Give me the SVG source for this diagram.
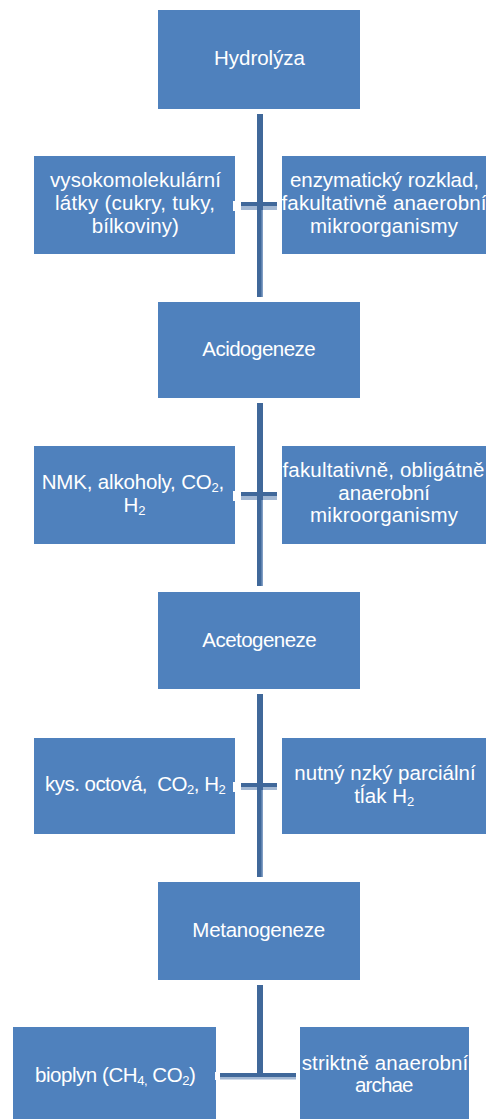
<svg xmlns="http://www.w3.org/2000/svg" width="489" height="1119" viewBox="0 0 489 1119">
<style>
.box{fill:#4f81bd}
.t{font-family:"Liberation Sans",Arial,sans-serif;font-size:20.5px;fill:#ffffff;text-anchor:middle}
.dark{fill:#40689a}
.light{fill:#a3b8d3}
.wh{fill:#ffffff}
.edge{fill:#7f9dc4}
</style>
<rect width="489" height="1119" fill="#ffffff"/>
<g id="hydrolyza"><rect class="box" x="158" y="10" width="202" height="99"/><text class="t" x="259.5" y="65" textLength="91" lengthAdjust="spacing">Hydrolýza</text></g>
<g id="vysokomolekularni"><rect class="box" x="34" y="156" width="201" height="98"/>
<text class="t" x="135.5" y="187" textLength="171" lengthAdjust="spacing">vysokomolekulární</text>
<text class="t" x="135" y="210" textLength="160" lengthAdjust="spacing">látky (cukry, tuky,</text>
<text class="t" x="135.3" y="232.5" textLength="87" lengthAdjust="spacing">bílkoviny)</text></g>
<g id="enzymaticky"><rect class="box" x="282" y="156" width="204" height="98"/>
<text class="t" x="384.5" y="187" textLength="189" lengthAdjust="spacing">enzymatický rozklad,</text>
<text class="t" x="384" y="210" textLength="205" lengthAdjust="spacing">fakultativně anaerobní</text>
<text class="t" x="384" y="232.5" textLength="148" lengthAdjust="spacing">mikroorganismy</text></g>

<g id="acidogeneze"><rect class="box" x="158" y="302" width="202" height="96"/><text class="t" x="259" y="356" textLength="113.5" lengthAdjust="spacing">Acidogeneze</text></g>
<g id="nmk"><rect class="box" x="34" y="446" width="201" height="98"/>
<text class="t" x="133" y="489" textLength="182.6" lengthAdjust="spacing">NMK, alkoholy, CO<tspan font-size="13" dy="3">2</tspan><tspan dy="-3">,</tspan></text>
<text class="t" x="134.5" y="511.5">H<tspan font-size="13" dy="3">2</tspan></text></g>
<g id="fakultativne"><rect class="box" x="282" y="446" width="204" height="98"/>
<text class="t" x="383.5" y="477" textLength="202" lengthAdjust="spacing">fakultativně, obligátně</text>
<text class="t" x="384.2" y="500" textLength="91.7" lengthAdjust="spacing">anaerobní</text>
<text class="t" x="384" y="521.5" textLength="148" lengthAdjust="spacing">mikroorganismy</text></g>

<g id="acetogeneze"><rect class="box" x="158" y="592" width="202" height="97"/><text class="t" x="259.5" y="646.7" textLength="114.4" lengthAdjust="spacing">Acetogeneze</text></g>
<g id="kys"><rect class="box" x="34" y="738" width="201" height="96"/>
<text class="t" x="135.3" y="791" textLength="180.7" lengthAdjust="spacing">kys. octová, &#160;CO<tspan font-size="13" dy="3">2</tspan><tspan dy="-3">, H</tspan><tspan font-size="13" dy="3">2</tspan></text></g>
<g id="nutny"><rect class="box" x="282" y="738" width="204" height="96"/>
<text class="t" x="385" y="780" textLength="181.4" lengthAdjust="spacing">nutný nzký parciální</text>
<text class="t" x="384.3" y="803.3" textLength="60" lengthAdjust="spacing">tĺak H<tspan font-size="13" dy="3">2</tspan></text></g>

<g id="metanogeneze"><rect class="box" x="158" y="882" width="202" height="98"/><text class="t" x="258.7" y="936.7" textLength="132.7" lengthAdjust="spacing">Metanogeneze</text></g>
<g id="bioplyn"><rect class="box" x="13" y="1027" width="203" height="92"/>
<text class="t" x="115.4" y="1081.7" textLength="160.7" lengthAdjust="spacing">bioplyn (CH<tspan font-size="13" dy="3">4,</tspan><tspan dy="-3"> CO</tspan><tspan font-size="13" dy="3">2</tspan><tspan dy="-3">)</tspan></text></g>
<g id="striktne"><rect class="box" x="300" y="1027" width="169" height="92"/>
<text class="t" x="385" y="1070" textLength="166.6" lengthAdjust="spacing">striktně anaerobní</text>
<text class="t" x="384.2" y="1092.3" textLength="58.3" lengthAdjust="spacing">archae</text></g>

<g id="connectors">
<rect class="wh" x="233" y="201" width="49" height="10"/>
<rect class="dark" x="241" y="202" width="36" height="4"/>
<rect class="light" x="241" y="206" width="36" height="4"/>
<rect class="dark" x="257" y="114" width="6" height="183"/>
<rect class="edge" x="261.5" y="210" width="1.5" height="87"/>

<rect class="wh" x="233" y="491" width="49" height="10"/>
<rect class="dark" x="241" y="492" width="36" height="4"/>
<rect class="light" x="241" y="496" width="36" height="4"/>
<rect class="dark" x="257" y="403" width="6" height="183"/>
<rect class="edge" x="261.5" y="500" width="1.5" height="86"/>

<rect class="wh" x="233" y="782" width="49" height="10"/>
<rect class="dark" x="241" y="783" width="36" height="4"/>
<rect class="light" x="241" y="787" width="36" height="3"/>
<rect class="dark" x="257" y="694" width="6" height="183"/>
<rect class="edge" x="261.5" y="790" width="1.5" height="87"/>

<rect class="wh" x="215" y="1072" width="85" height="8"/>
<rect class="dark" x="220" y="1073" width="76" height="4"/>
<rect class="light" x="220" y="1077" width="76" height="2.5"/>
<rect class="dark" x="257" y="985" width="6" height="92"/>
</g>
</svg>
